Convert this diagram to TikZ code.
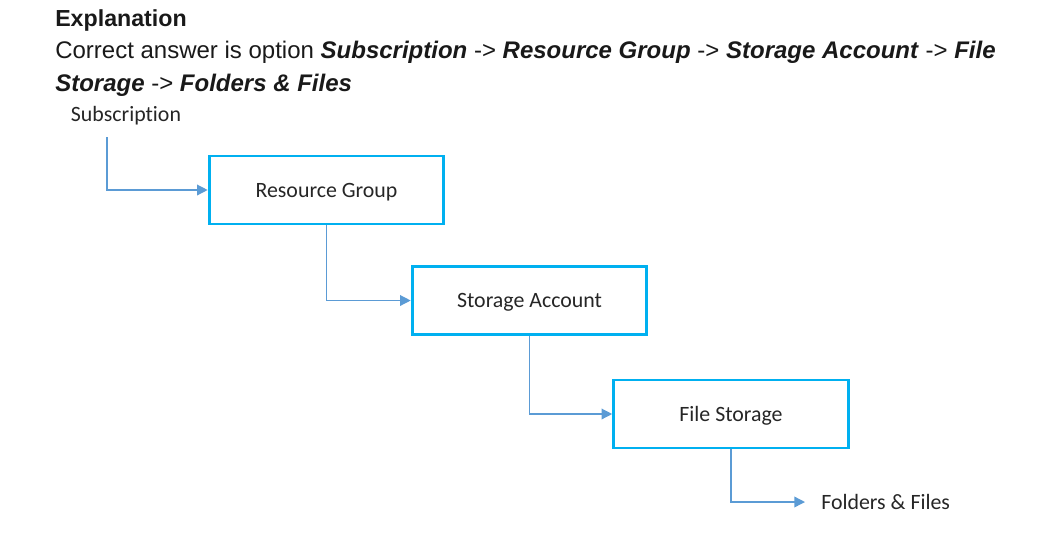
\documentclass[tikz,border=0pt]{standalone}
\usepackage{fontspec}
\setmainfont{Liberation Sans}
\newfontfamily\diagfont[Ligatures = NoCommon]{Carlito}
\usetikzlibrary{arrows.meta}
\usetikzlibrary{positioning}
\definecolor{boxblue}{RGB}{0,176,240}
\definecolor{linkblue}{RGB}{91,155,213}
\tikzset{diagtext/.style = {font = \diagfont\fontsize{16.4}{19}\selectfont, text = black!85}}
\tikzset{stepbox/.style = {diagtext, text depth = 0pt, draw = boxblue, line width = 2.2pt, minimum width = 176pt, minimum height = 51pt}}
\tikzset{link/.style = {draw = linkblue, line width = 1pt, -{Triangle[length = 8pt, width = 8pt]}}}
\tikzset{head/.style = {anchor = base west, inner sep = 0, font = \fontsize{18}{21}\selectfont, text = black!90}}

\begin{document}
\begin{tikzpicture}[x = 0.75pt, y = -0.75pt]
      \useasboundingbox (0, 0) rectangle (1050, 537);

      \node [head, font = \fontsize{17.4}{21}\selectfont] (title) at (55, 26) {\bfseries Explanation};
      \node [head] (line1) at (55, 58) {Correct answer is option \textbf{\textit{Subscription}} -> \textbf{\textit{Resource Group}} -> \textbf{\textit{Storage Account}} -> \textbf{\textit{File}}};
      \node [head] (line2) at (55, 91) {\textbf{\textit{Storage}} -> \textbf{\textit{Folders \& Files}}};

      \node [diagtext] (sub) at (126, 116) {Subscription};
      \coordinate (subout) at (107, 137);
      \node [stepbox] (rg) at (326.5, 190) {Resource Group};
      \node [stepbox] (sa) at (529.5, 300.5) {Storage Account};
      \node [stepbox] (fs) at (731, 414) {File Storage};
      \node [diagtext, anchor = west, inner sep = 0] (ff) at (821, 502) {Folders \& Files};

      \draw [link] (subout) |- (rg.west);
      \draw [link] (rg.south) |- (sa.west);
      \draw [link] (sa.south) |- (fs.west);
      \draw [link, shorten > = 12pt] (fs.south) |- (ff.west);
    \end{tikzpicture}
\end{document}
